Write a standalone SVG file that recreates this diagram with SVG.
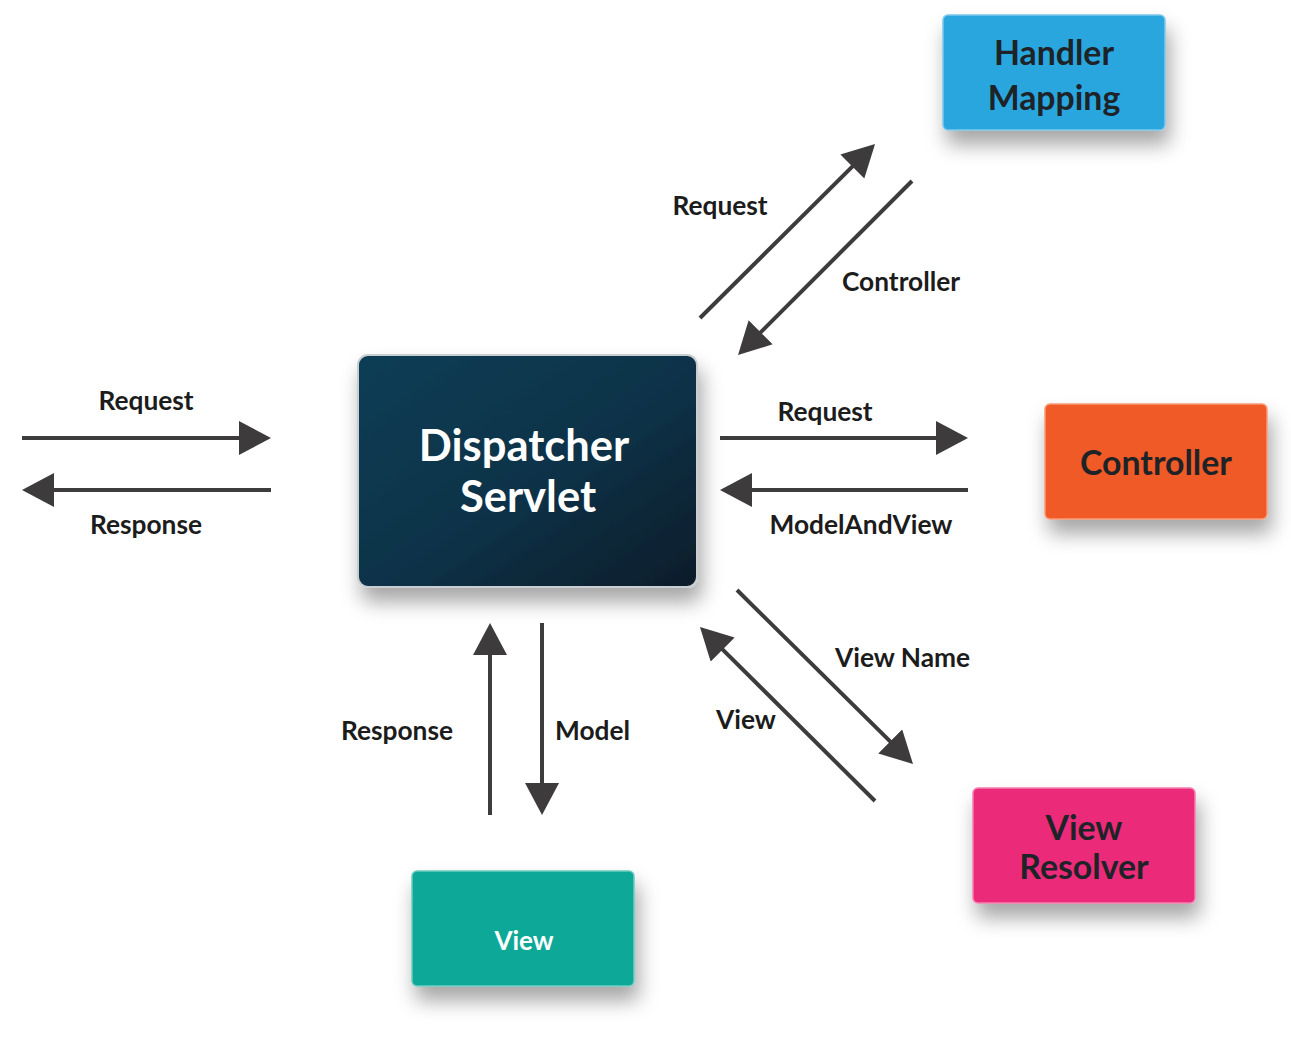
<svg xmlns="http://www.w3.org/2000/svg" width="1291" height="1062" viewBox="0 0 1291 1062">
<defs>
<style>
.lbl{font-family:Lato,"Open Sans","Liberation Sans",sans-serif;font-size:26.3px;font-weight:700;fill:#1c1c1c}
.nt{font-family:Lato,"Open Sans","Liberation Sans",sans-serif;font-size:33.8px;font-weight:700;fill:#1e2328;text-anchor:middle}
.wt{font-family:Lato,"Open Sans","Liberation Sans",sans-serif;font-weight:700;fill:#ffffff;text-anchor:middle}
.ar{stroke:#3d3b3c;stroke-width:4;fill:none;marker-end:url(#ah)}
</style>
<marker id="ah" markerUnits="userSpaceOnUse" markerWidth="34" markerHeight="36" refX="7" refY="17" orient="auto">
<path d="M0,0 L32,17 L0,34 z" fill="#3d3b3c"/>
</marker>
<filter id="sh" x="-30%" y="-30%" width="160%" height="180%">
<feDropShadow dx="4" dy="14" stdDeviation="10" flood-color="#000" flood-opacity="0.35"/>
</filter>
<linearGradient id="dg" x1="0" y1="0" x2="1" y2="1">
<stop offset="0" stop-color="#0e3d55"/>
<stop offset="0.55" stop-color="#0c3247"/>
<stop offset="1" stop-color="#0a1c29"/>
</linearGradient>
</defs>
<rect width="1291" height="1062" fill="#ffffff"/>

<g id="dispatcher-servlet">
<rect x="358" y="355" width="339" height="232" rx="10" fill="url(#dg)" stroke="#c9ced2" stroke-width="2" filter="url(#sh)"/>
<text class="wt" x="524" y="461" font-size="43.5">Dispatcher</text>
<text class="wt" x="528" y="512" font-size="43.5">Servlet</text>
</g>

<g id="handler-mapping">
<rect x="943" y="15" width="222" height="115" rx="5" fill="#2ba6df" stroke="#7cc8ec" stroke-width="1.5" filter="url(#sh)"/>
<text class="nt" x="1054" y="65">Handler</text>
<text class="nt" x="1054" y="110">Mapping</text>
</g>

<g id="controller">
<rect x="1045" y="404" width="222" height="115" rx="5" fill="#f05a28" stroke="#f79a78" stroke-width="1.5" filter="url(#sh)"/>
<text class="nt" x="1156" y="475">Controller</text>
</g>

<g id="view-resolver">
<rect x="973" y="788" width="222" height="115" rx="5" fill="#ec2c7a" stroke="#f37fae" stroke-width="1.5" filter="url(#sh)"/>
<text class="nt" x="1084" y="840">View</text>
<text class="nt" x="1084" y="879">Resolver</text>
</g>

<g id="view">
<rect x="412" y="871" width="222" height="115" rx="5" fill="#10a898" stroke="#6ccbbf" stroke-width="1.5" filter="url(#sh)"/>
<text class="wt" x="524" y="950" font-size="26">View</text>
</g>

<g id="connectors">
<line class="ar" x1="22" y1="438" x2="246" y2="438"/>
<line class="ar" x1="271" y1="490" x2="47" y2="490"/>
<line class="ar" x1="720" y1="438" x2="943" y2="438"/>
<line class="ar" x1="968" y1="490" x2="745" y2="490"/>
<line class="ar" x1="700" y1="318" x2="857.3" y2="161.6"/>
<line class="ar" x1="912" y1="181" x2="755.7" y2="337.3"/>
<line class="ar" x1="737" y1="590" x2="895.2" y2="746.4"/>
<line class="ar" x1="875" y1="801" x2="717.7" y2="644.6"/>
<line class="ar" x1="490" y1="815" x2="490" y2="648"/>
<line class="ar" x1="542" y1="623" x2="542" y2="790"/>
</g>

<g id="labels">
<text class="lbl" x="146" y="410" text-anchor="middle">Request</text>
<text class="lbl" x="146" y="534" text-anchor="middle">Response</text>
<text class="lbl" x="825" y="421" text-anchor="middle">Request</text>
<text class="lbl" x="861" y="534" text-anchor="middle">ModelAndView</text>
<text class="lbl" x="720" y="215" text-anchor="middle">Request</text>
<text class="lbl" x="842" y="291">Controller</text>
<text class="lbl" x="835" y="667">View Name</text>
<text class="lbl" x="716" y="729">View</text>
<text class="lbl" x="453" y="740" text-anchor="end">Response</text>
<text class="lbl" x="555" y="740">Model</text>
</g>
</svg>
